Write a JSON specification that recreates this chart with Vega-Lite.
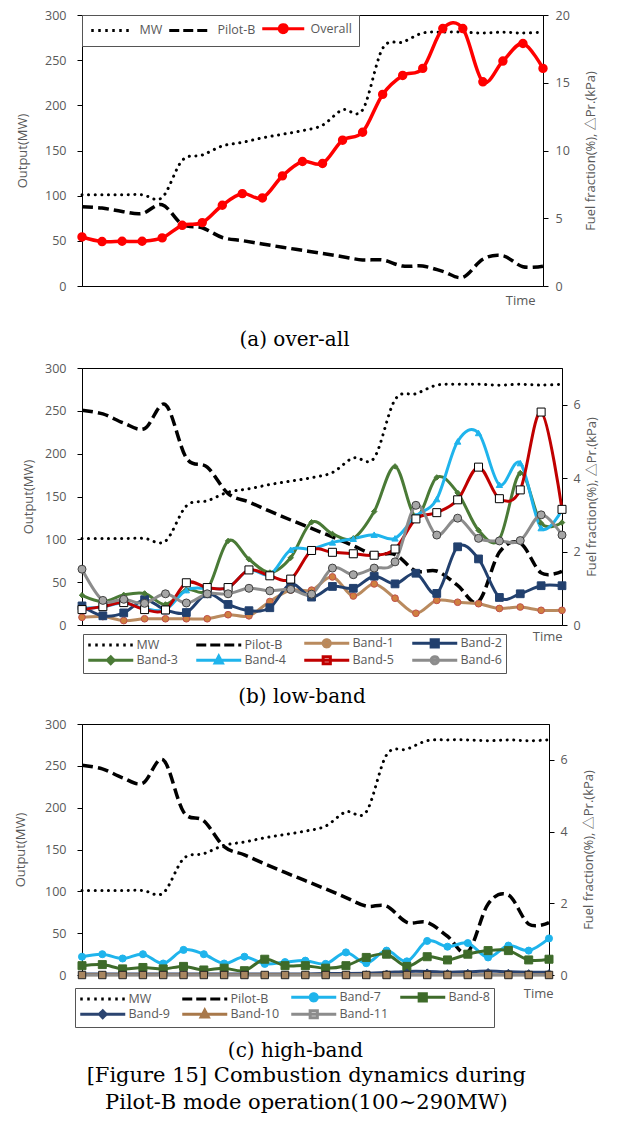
{
"$schema": "https://vega.github.io/schema/vega-lite/v6.json",
"padding": {"left": 14, "top": 8, "right": 8, "bottom": 4},
"spacing": 10,
"config": {
  "view": {"stroke": "#000", "strokeWidth": 1},
  "font": "Open Sans",
  "axis": {"grid": false, "labelFont": "Open Sans", "labelFontSize": 12.5, "labelColor": "#595959", "titleFont": "Open Sans, Noto Sans CJK KR", "titleFontSize": 13, "titleColor": "#595959", "titleFontWeight": "normal", "domainColor": "#000", "tickColor": "#000", "tickSize": 5, "domainWidth": 1},
  "legend": {"labelFont": "Open Sans", "labelFontSize": 12.5, "labelColor": "#595959"},
  "title": {"font": "DejaVu Serif", "fontWeight": "normal", "color": "#000"}
},
"datasets": {
"d": [
{"t":1,"s":"MW","v":101},{"t":2,"s":"MW","v":101},{"t":3,"s":"MW","v":101},{"t":4,"s":"MW","v":101},{"t":5,"s":"MW","v":98},{"t":6,"s":"MW","v":139},{"t":7,"s":"MW","v":145},{"t":8,"s":"MW","v":155},{"t":9,"s":"MW","v":159},{"t":10,"s":"MW","v":164},{"t":11,"s":"MW","v":168},{"t":12,"s":"MW","v":172},{"t":13,"s":"MW","v":178},{"t":14,"s":"MW","v":195},{"t":15,"s":"MW","v":195},{"t":16,"s":"MW","v":263},{"t":17,"s":"MW","v":270},{"t":18,"s":"MW","v":280},{"t":19,"s":"MW","v":281},{"t":20,"s":"MW","v":281},{"t":21,"s":"MW","v":280},{"t":22,"s":"MW","v":281},{"t":23,"s":"MW","v":280},{"t":24,"s":"MW","v":281},
{"t":1,"s":"Pilot-B","v":5.85},{"t":2,"s":"Pilot-B","v":5.75},{"t":3,"s":"Pilot-B","v":5.5},{"t":4,"s":"Pilot-B","v":5.35},{"t":5,"s":"Pilot-B","v":6.0},{"t":6,"s":"Pilot-B","v":4.55},{"t":7,"s":"Pilot-B","v":4.3},{"t":8,"s":"Pilot-B","v":3.58},{"t":9,"s":"Pilot-B","v":3.35},{"t":10,"s":"Pilot-B","v":3.1},{"t":11,"s":"Pilot-B","v":2.86},{"t":12,"s":"Pilot-B","v":2.63},{"t":13,"s":"Pilot-B","v":2.4},{"t":14,"s":"Pilot-B","v":2.16},{"t":15,"s":"Pilot-B","v":1.92},{"t":16,"s":"Pilot-B","v":1.92},{"t":17,"s":"Pilot-B","v":1.47},{"t":18,"s":"Pilot-B","v":1.47},{"t":19,"s":"Pilot-B","v":1.08},{"t":20,"s":"Pilot-B","v":0.64},{"t":21,"s":"Pilot-B","v":1.98},{"t":22,"s":"Pilot-B","v":2.23},{"t":23,"s":"Pilot-B","v":1.42},{"t":24,"s":"Pilot-B","v":1.46},
{"t":1,"s":"Overall","v":3.62},{"t":2,"s":"Overall","v":3.28},{"t":3,"s":"Overall","v":3.3},{"t":4,"s":"Overall","v":3.3},{"t":5,"s":"Overall","v":3.55},{"t":6,"s":"Overall","v":4.48},{"t":7,"s":"Overall","v":4.68},{"t":8,"s":"Overall","v":5.96},{"t":9,"s":"Overall","v":6.82},{"t":10,"s":"Overall","v":6.5},{"t":11,"s":"Overall","v":8.13},{"t":12,"s":"Overall","v":9.19},{"t":13,"s":"Overall","v":9.04},{"t":14,"s":"Overall","v":10.76},{"t":15,"s":"Overall","v":11.35},{"t":16,"s":"Overall","v":14.14},{"t":17,"s":"Overall","v":15.54},{"t":18,"s":"Overall","v":16.06},{"t":19,"s":"Overall","v":19.0},{"t":20,"s":"Overall","v":19.0},{"t":21,"s":"Overall","v":15.07},{"t":22,"s":"Overall","v":16.6},{"t":23,"s":"Overall","v":17.9},{"t":24,"s":"Overall","v":16.06},
{"t":1,"s":"Band-1","v":0.21},{"t":2,"s":"Band-1","v":0.23},{"t":3,"s":"Band-1","v":0.12},{"t":4,"s":"Band-1","v":0.17},{"t":5,"s":"Band-1","v":0.17},{"t":6,"s":"Band-1","v":0.17},{"t":7,"s":"Band-1","v":0.17},{"t":8,"s":"Band-1","v":0.28},{"t":9,"s":"Band-1","v":0.25},{"t":10,"s":"Band-1","v":0.64},{"t":11,"s":"Band-1","v":0.95},{"t":12,"s":"Band-1","v":0.95},{"t":13,"s":"Band-1","v":1.31},{"t":14,"s":"Band-1","v":0.79},{"t":15,"s":"Band-1","v":1.12},{"t":16,"s":"Band-1","v":0.73},{"t":17,"s":"Band-1","v":0.32},{"t":18,"s":"Band-1","v":0.67},{"t":19,"s":"Band-1","v":0.62},{"t":20,"s":"Band-1","v":0.58},{"t":21,"s":"Band-1","v":0.45},{"t":22,"s":"Band-1","v":0.49},{"t":23,"s":"Band-1","v":0.4},{"t":24,"s":"Band-1","v":0.4},
{"t":1,"s":"Band-2","v":0.52},{"t":2,"s":"Band-2","v":0.25},{"t":3,"s":"Band-2","v":0.33},{"t":4,"s":"Band-2","v":0.69},{"t":5,"s":"Band-2","v":0.41},{"t":6,"s":"Band-2","v":0.34},{"t":7,"s":"Band-2","v":0.85},{"t":8,"s":"Band-2","v":0.56},{"t":9,"s":"Band-2","v":0.39},{"t":10,"s":"Band-2","v":0.47},{"t":11,"s":"Band-2","v":1.12},{"t":12,"s":"Band-2","v":0.76},{"t":13,"s":"Band-2","v":1.05},{"t":14,"s":"Band-2","v":1.0},{"t":15,"s":"Band-2","v":1.33},{"t":16,"s":"Band-2","v":1.12},{"t":17,"s":"Band-2","v":1.41},{"t":18,"s":"Band-2","v":0.86},{"t":19,"s":"Band-2","v":2.13},{"t":20,"s":"Band-2","v":1.8},{"t":21,"s":"Band-2","v":0.75},{"t":22,"s":"Band-2","v":0.85},{"t":23,"s":"Band-2","v":1.07},{"t":24,"s":"Band-2","v":1.07},
{"t":1,"s":"Band-3","v":0.81},{"t":2,"s":"Band-3","v":0.64},{"t":3,"s":"Band-3","v":0.82},{"t":4,"s":"Band-3","v":0.86},{"t":5,"s":"Band-3","v":0.56},{"t":6,"s":"Band-3","v":0.96},{"t":7,"s":"Band-3","v":0.97},{"t":8,"s":"Band-3","v":2.29},{"t":9,"s":"Band-3","v":1.79},{"t":10,"s":"Band-3","v":1.43},{"t":11,"s":"Band-3","v":1.83},{"t":12,"s":"Band-3","v":2.8},{"t":13,"s":"Band-3","v":2.48},{"t":14,"s":"Band-3","v":2.36},{"t":15,"s":"Band-3","v":3.09},{"t":16,"s":"Band-3","v":4.32},{"t":17,"s":"Band-3","v":2.95},{"t":18,"s":"Band-3","v":4.02},{"t":19,"s":"Band-3","v":3.6},{"t":20,"s":"Band-3","v":2.58},{"t":21,"s":"Band-3","v":2.34},{"t":22,"s":"Band-3","v":4.14},{"t":23,"s":"Band-3","v":2.77},{"t":24,"s":"Band-3","v":2.79},
{"t":1,"s":"Band-4","v":0.45},{"t":2,"s":"Band-4","v":0.5},{"t":3,"s":"Band-4","v":0.6},{"t":4,"s":"Band-4","v":0.45},{"t":5,"s":"Band-4","v":0.42},{"t":6,"s":"Band-4","v":0.95},{"t":7,"s":"Band-4","v":1.0},{"t":8,"s":"Band-4","v":1.02},{"t":9,"s":"Band-4","v":1.5},{"t":10,"s":"Band-4","v":1.37},{"t":11,"s":"Band-4","v":2.05},{"t":12,"s":"Band-4","v":2.07},{"t":13,"s":"Band-4","v":2.25},{"t":14,"s":"Band-4","v":2.35},{"t":15,"s":"Band-4","v":2.46},{"t":16,"s":"Band-4","v":2.36},{"t":17,"s":"Band-4","v":2.97},{"t":18,"s":"Band-4","v":3.43},{"t":19,"s":"Band-4","v":5.0},{"t":20,"s":"Band-4","v":5.23},{"t":21,"s":"Band-4","v":3.82},{"t":22,"s":"Band-4","v":4.41},{"t":23,"s":"Band-4","v":2.64},{"t":24,"s":"Band-4","v":3.14},
{"t":1,"s":"Band-5","v":0.42},{"t":2,"s":"Band-5","v":0.5},{"t":3,"s":"Band-5","v":0.61},{"t":4,"s":"Band-5","v":0.42},{"t":5,"s":"Band-5","v":0.41},{"t":6,"s":"Band-5","v":1.15},{"t":7,"s":"Band-5","v":1.02},{"t":8,"s":"Band-5","v":1.02},{"t":9,"s":"Band-5","v":1.5},{"t":10,"s":"Band-5","v":1.34},{"t":11,"s":"Band-5","v":1.25},{"t":12,"s":"Band-5","v":2.03},{"t":13,"s":"Band-5","v":1.98},{"t":14,"s":"Band-5","v":1.94},{"t":15,"s":"Band-5","v":1.9},{"t":16,"s":"Band-5","v":2.07},{"t":17,"s":"Band-5","v":2.89},{"t":18,"s":"Band-5","v":3.06},{"t":19,"s":"Band-5","v":3.41},{"t":20,"s":"Band-5","v":4.3},{"t":21,"s":"Band-5","v":3.44},{"t":22,"s":"Band-5","v":3.68},{"t":23,"s":"Band-5","v":5.8},{"t":24,"s":"Band-5","v":3.15},
{"t":1,"s":"Band-6","v":1.52},{"t":2,"s":"Band-6","v":0.67},{"t":3,"s":"Band-6","v":0.7},{"t":4,"s":"Band-6","v":0.59},{"t":5,"s":"Band-6","v":0.85},{"t":6,"s":"Band-6","v":0.6},{"t":7,"s":"Band-6","v":0.85},{"t":8,"s":"Band-6","v":0.85},{"t":9,"s":"Band-6","v":1.0},{"t":10,"s":"Band-6","v":0.93},{"t":11,"s":"Band-6","v":0.97},{"t":12,"s":"Band-6","v":0.84},{"t":13,"s":"Band-6","v":1.55},{"t":14,"s":"Band-6","v":1.37},{"t":15,"s":"Band-6","v":1.55},{"t":16,"s":"Band-6","v":1.72},{"t":17,"s":"Band-6","v":3.26},{"t":18,"s":"Band-6","v":2.45},{"t":19,"s":"Band-6","v":2.91},{"t":20,"s":"Band-6","v":2.36},{"t":21,"s":"Band-6","v":2.29},{"t":22,"s":"Band-6","v":2.3},{"t":23,"s":"Band-6","v":3.0},{"t":24,"s":"Band-6","v":2.45},
{"t":1,"s":"Band-7","v":0.51},{"t":2,"s":"Band-7","v":0.58},{"t":3,"s":"Band-7","v":0.46},{"t":4,"s":"Band-7","v":0.58},{"t":5,"s":"Band-7","v":0.32},{"t":6,"s":"Band-7","v":0.7},{"t":7,"s":"Band-7","v":0.58},{"t":8,"s":"Band-7","v":0.32},{"t":9,"s":"Band-7","v":0.51},{"t":10,"s":"Band-7","v":0.31},{"t":11,"s":"Band-7","v":0.36},{"t":12,"s":"Band-7","v":0.4},{"t":13,"s":"Band-7","v":0.31},{"t":14,"s":"Band-7","v":0.63},{"t":15,"s":"Band-7","v":0.33},{"t":16,"s":"Band-7","v":0.68},{"t":17,"s":"Band-7","v":0.38},{"t":18,"s":"Band-7","v":0.95},{"t":19,"s":"Band-7","v":0.79},{"t":20,"s":"Band-7","v":0.89},{"t":21,"s":"Band-7","v":0.49},{"t":22,"s":"Band-7","v":0.82},{"t":23,"s":"Band-7","v":0.68},{"t":24,"s":"Band-7","v":1.02},
{"t":1,"s":"Band-8","v":0.26},{"t":2,"s":"Band-8","v":0.29},{"t":3,"s":"Band-8","v":0.17},{"t":4,"s":"Band-8","v":0.21},{"t":5,"s":"Band-8","v":0.17},{"t":6,"s":"Band-8","v":0.24},{"t":7,"s":"Band-8","v":0.14},{"t":8,"s":"Band-8","v":0.19},{"t":9,"s":"Band-8","v":0.12},{"t":10,"s":"Band-8","v":0.44},{"t":11,"s":"Band-8","v":0.26},{"t":12,"s":"Band-8","v":0.26},{"t":13,"s":"Band-8","v":0.19},{"t":14,"s":"Band-8","v":0.26},{"t":15,"s":"Band-8","v":0.49},{"t":16,"s":"Band-8","v":0.58},{"t":17,"s":"Band-8","v":0.24},{"t":18,"s":"Band-8","v":0.51},{"t":19,"s":"Band-8","v":0.42},{"t":20,"s":"Band-8","v":0.58},{"t":21,"s":"Band-8","v":0.68},{"t":22,"s":"Band-8","v":0.68},{"t":23,"s":"Band-8","v":0.42},{"t":24,"s":"Band-8","v":0.44},
{"t":1,"s":"Band-9","v":0.03},{"t":2,"s":"Band-9","v":0.03},{"t":3,"s":"Band-9","v":0.03},{"t":4,"s":"Band-9","v":0.03},{"t":5,"s":"Band-9","v":0.03},{"t":6,"s":"Band-9","v":0.03},{"t":7,"s":"Band-9","v":0.03},{"t":8,"s":"Band-9","v":0.03},{"t":9,"s":"Band-9","v":0.03},{"t":10,"s":"Band-9","v":0.03},{"t":11,"s":"Band-9","v":0.03},{"t":12,"s":"Band-9","v":0.03},{"t":13,"s":"Band-9","v":0.04},{"t":14,"s":"Band-9","v":0.04},{"t":15,"s":"Band-9","v":0.05},{"t":16,"s":"Band-9","v":0.07},{"t":17,"s":"Band-9","v":0.1},{"t":18,"s":"Band-9","v":0.1},{"t":19,"s":"Band-9","v":0.08},{"t":20,"s":"Band-9","v":0.09},{"t":21,"s":"Band-9","v":0.11},{"t":22,"s":"Band-9","v":0.09},{"t":23,"s":"Band-9","v":0.08},{"t":24,"s":"Band-9","v":0.08},
{"t":1,"s":"Band-10","v":0.01},{"t":2,"s":"Band-10","v":0.01},{"t":3,"s":"Band-10","v":0.01},{"t":4,"s":"Band-10","v":0.01},{"t":5,"s":"Band-10","v":0.01},{"t":6,"s":"Band-10","v":0.01},{"t":7,"s":"Band-10","v":0.01},{"t":8,"s":"Band-10","v":0.01},{"t":9,"s":"Band-10","v":0.01},{"t":10,"s":"Band-10","v":0.01},{"t":11,"s":"Band-10","v":0.01},{"t":12,"s":"Band-10","v":0.01},{"t":13,"s":"Band-10","v":0.01},{"t":14,"s":"Band-10","v":0.01},{"t":15,"s":"Band-10","v":0.01},{"t":16,"s":"Band-10","v":0.01},{"t":17,"s":"Band-10","v":0.01},{"t":18,"s":"Band-10","v":0.01},{"t":19,"s":"Band-10","v":0.01},{"t":20,"s":"Band-10","v":0.01},{"t":21,"s":"Band-10","v":0.01},{"t":22,"s":"Band-10","v":0.01},{"t":23,"s":"Band-10","v":0.01},{"t":24,"s":"Band-10","v":0.01},
{"t":1,"s":"Band-11","v":0},{"t":2,"s":"Band-11","v":0},{"t":3,"s":"Band-11","v":0},{"t":4,"s":"Band-11","v":0},{"t":5,"s":"Band-11","v":0},{"t":6,"s":"Band-11","v":0},{"t":7,"s":"Band-11","v":0},{"t":8,"s":"Band-11","v":0},{"t":9,"s":"Band-11","v":0},{"t":10,"s":"Band-11","v":0},{"t":11,"s":"Band-11","v":0},{"t":12,"s":"Band-11","v":0},{"t":13,"s":"Band-11","v":0},{"t":14,"s":"Band-11","v":0},{"t":15,"s":"Band-11","v":0},{"t":16,"s":"Band-11","v":0},{"t":17,"s":"Band-11","v":0},{"t":18,"s":"Band-11","v":0},{"t":19,"s":"Band-11","v":0},{"t":20,"s":"Band-11","v":0},{"t":21,"s":"Band-11","v":0},{"t":22,"s":"Band-11","v":0},{"t":23,"s":"Band-11","v":0},{"t":24,"s":"Band-11","v":0}
]
},
"title": {"text": ["[Figure 15] Combustion dynamics during", "Pilot-B mode operation(100~290MW)"], "orient": "bottom", "anchor": "middle", "fontSize": 21, "lineHeight": 27, "offset": 4},
"resolve": {"scale": {"color": "independent", "shape": "independent", "fill": "independent", "stroke": "independent", "strokeDash": "independent"}, "legend": {"color": "independent", "shape": "independent", "fill": "independent", "stroke": "independent", "strokeDash": "independent"}},
"vconcat": [
{
  "width": 461, "height": 271,
  "data": {"name": "d"},
  "title": {"text": "(a) over-all", "orient": "bottom", "offset": 23, "fontSize": 20, "anchor": "middle", "frame": "group", "dx": -18},
  "layer": [
    {
      "transform": [{"filter": "datum.s==='MW'"}],
      "mark": {"type": "line", "interpolate": "cardinal", "color": "#000", "strokeWidth": 3, "strokeDash": [0.1, 6.5], "strokeCap": "round"},
      "encoding": {
        "x": {"field": "t", "type": "quantitative", "scale": {"domain": [1, 24], "nice": false, "zero": false}, "axis": {"title": "Time", "labels": false, "ticks": false, "domain": false, "titleX": 453, "titleY": 8, "titleAlign": "right", "titleBaseline": "top"}},
        "y": {"field": "v", "type": "quantitative", "scale": {"domain": [0, 300], "nice": false}, "axis": {"orient": "left", "title": "Output(MW)", "values": [0, 50, 100, 150, 200, 250, 300], "labelPadding": 11, "titlePadding": 15}}
      }
    },
    {
      "layer": [
        {
          "transform": [{"filter": "datum.s==='Pilot-B'"}],
          "mark": {"type": "line", "interpolate": "cardinal", "color": "#000", "strokeWidth": 3.5, "strokeDash": [11, 5]},
          "encoding": {
            "x": {"field": "t", "type": "quantitative"},
            "y": {"field": "v", "type": "quantitative", "scale": {"domain": [0, 20], "nice": false}, "axis": {"orient": "right", "title": "Fuel fraction(%), △Pr.(kPa)", "titleAngle": 270, "titleBaseline": "top", "values": [0, 5, 10, 15, 20], "labelPadding": 7, "titlePadding": 15}}
          }
        },
        {
          "transform": [{"filter": "datum.s==='Overall'"}],
          "mark": {"type": "line", "interpolate": "cardinal", "strokeWidth": 3.5, "color": "#FF0000"},
          "encoding": {
            "x": {"field": "t", "type": "quantitative"},
            "y": {"field": "v", "type": "quantitative"}
          }
        },
        {
          "transform": [{"filter": "datum.s==='Overall'"}],
          "mark": {"type": "point", "shape": "circle", "filled": true, "size": 55, "fill": "#FF0000", "stroke": "#FF0000", "opacity": 1},
          "encoding": {
            "x": {"field": "t", "type": "quantitative"},
            "y": {"field": "v", "type": "quantitative"}
          }
        },
        {
          "transform": [{"filter": "datum.s==='__legend_only__'"}],
          "mark": {"type": "point", "filled": true, "size": 64, "strokeWidth": 3, "opacity": 1},
          "encoding": {
            "x": {"field": "t", "type": "quantitative"},
            "y": {"field": "v", "type": "quantitative"},
            "shape": {"field": "s", "type": "nominal", "scale": {"domain": ["MW", "Pilot-B", "Overall"], "range": ["M-1,0H9.5", "M-1,0H9.5", "M-1,0H9.5M5.25,0A1,1,0,1,1,3.25,0A1,1,0,1,1,5.25,0Z"]},
              "legend": {"title": null, "orient": "none", "legendX": 0, "legendY": 0, "direction": "horizontal", "columns": 3, "symbolSize": 64, "symbolStrokeWidth": 3, "labelOffset": 38, "columnPadding": 0, "padding": 7, "strokeColor": "#555", "fillColor": "#fff"}},
            "fill": {"field": "s", "type": "nominal", "scale": {"domain": ["MW", "Pilot-B", "Overall"], "range": ["transparent", "transparent", "#FF0000"]},
              "legend": {"title": null, "orient": "none", "legendX": 0, "legendY": 0, "direction": "horizontal", "columns": 3, "symbolSize": 64, "symbolStrokeWidth": 3, "labelOffset": 38, "columnPadding": 0, "padding": 7, "strokeColor": "#555", "fillColor": "#fff"}},
            "stroke": {"field": "s", "type": "nominal", "scale": {"domain": ["MW", "Pilot-B", "Overall"], "range": ["#000000", "#000000", "#FF0000"]},
              "legend": {"title": null, "orient": "none", "legendX": 0, "legendY": 0, "direction": "horizontal", "columns": 3, "symbolSize": 64, "symbolStrokeWidth": 3, "labelOffset": 38, "columnPadding": 0, "padding": 7, "strokeColor": "#555", "fillColor": "#fff"}},
            "strokeDash": {"field": "s", "type": "nominal", "scale": {"domain": ["MW", "Pilot-B", "Overall"], "range": [[2.5, 4.5], [10, 4], [1, 0]]},
              "legend": {"title": null, "orient": "none", "legendX": 0, "legendY": 0, "direction": "horizontal", "columns": 3, "symbolSize": 64, "symbolStrokeWidth": 3, "labelOffset": 38, "columnPadding": 0, "padding": 7, "strokeColor": "#555", "fillColor": "#fff"}}
          }
        }
      ]
    }
  ],
  "resolve": {"scale": {"y": "independent"}}
},
{
  "width": 480, "height": 257,
  "data": {"name": "d"},
  "title": {"text": "(b) low-band", "orient": "bottom", "offset": 13, "fontSize": 20, "anchor": "middle", "frame": "group", "dx": -20},
  "layer": [
    {
      "transform": [{"filter": "datum.s==='MW'"}],
      "mark": {"type": "line", "interpolate": "cardinal", "color": "#000", "strokeWidth": 3, "strokeDash": [0.1, 6.5], "strokeCap": "round"},
      "encoding": {
        "x": {"field": "t", "type": "quantitative", "scale": {"domain": [1, 24], "nice": false, "zero": false}, "axis": {"title": "Time", "labels": false, "ticks": false, "domain": false, "titleX": 480, "titleY": 5, "titleAlign": "right", "titleBaseline": "top"}},
        "y": {"field": "v", "type": "quantitative", "scale": {"domain": [0, 300], "nice": false}, "axis": {"orient": "left", "title": "Output(MW)", "values": [0, 50, 100, 150, 200, 250, 300], "labelPadding": 11, "titlePadding": 9}}
      }
    },
    {
      "layer": [
        {
          "transform": [{"filter": "datum.s==='Pilot-B'"}],
          "mark": {"type": "line", "interpolate": "cardinal", "color": "#000", "strokeWidth": 3.5, "strokeDash": [11, 5]},
          "encoding": {
            "x": {"field": "t", "type": "quantitative"},
            "y": {"field": "v", "type": "quantitative", "scale": {"domain": [0, 7], "nice": false}, "axis": {"orient": "right", "title": "Fuel fraction(%), △Pr.(kPa)", "titleAngle": 270, "titleBaseline": "top", "values": [0, 1, 2, 3, 4, 5, 6, 7], "labelPadding": 6, "titlePadding": 5}}
          }
        },
        {
          "transform": [{"filter": "indexof(['Band-1','Band-2','Band-3','Band-4','Band-5','Band-6'], datum.s) >= 0"}],
          "mark": {"type": "line", "interpolate": "cardinal", "strokeWidth": 3},
          "encoding": {
            "x": {"field": "t", "type": "quantitative"},
            "y": {"field": "v", "type": "quantitative"},
            "color": {"field": "s", "type": "nominal", "scale": {"domain": ["Band-1", "Band-2", "Band-3", "Band-4", "Band-5", "Band-6"], "range": ["#B98A5E", "#22406E", "#4A7A36", "#1FB4EC", "#C00000", "#8C8C8C"]}, "legend": null}
          }
        },
        {"transform": [{"filter": "datum.s==='Band-1'"}], "mark": {"type": "point", "shape": "circle", "filled": true, "size": 45, "fill": "#D0803F", "stroke": "#C0504D", "strokeWidth": 1, "opacity": 1}, "encoding": {"x": {"field": "t", "type": "quantitative"}, "y": {"field": "v", "type": "quantitative"}}},
        {"transform": [{"filter": "datum.s==='Band-2'"}], "mark": {"type": "point", "shape": "square", "filled": true, "size": 60, "fill": "#22406E", "stroke": "#22406E", "strokeWidth": 1, "opacity": 1}, "encoding": {"x": {"field": "t", "type": "quantitative"}, "y": {"field": "v", "type": "quantitative"}}},
        {"transform": [{"filter": "datum.s==='Band-3'"}], "mark": {"type": "point", "shape": "diamond", "filled": true, "size": 30, "fill": "#4A7A36", "stroke": "#4A7A36", "strokeWidth": 1, "opacity": 1}, "encoding": {"x": {"field": "t", "type": "quantitative"}, "y": {"field": "v", "type": "quantitative"}}},
        {"transform": [{"filter": "datum.s==='Band-4'"}], "mark": {"type": "point", "shape": "triangle-up", "filled": true, "size": 40, "fill": "#1FB4EC", "stroke": "#1FB4EC", "strokeWidth": 1, "opacity": 1}, "encoding": {"x": {"field": "t", "type": "quantitative"}, "y": {"field": "v", "type": "quantitative"}}},
        {"transform": [{"filter": "datum.s==='Band-5'"}], "mark": {"type": "point", "shape": "square", "filled": true, "size": 64, "fill": "#ffffff", "stroke": "#000000", "strokeWidth": 1, "opacity": 1}, "encoding": {"x": {"field": "t", "type": "quantitative"}, "y": {"field": "v", "type": "quantitative"}}},
        {"transform": [{"filter": "datum.s==='Band-6'"}], "mark": {"type": "point", "shape": "circle", "filled": true, "size": 64, "fill": "#A6A6A6", "stroke": "#404040", "strokeWidth": 1, "opacity": 1}, "encoding": {"x": {"field": "t", "type": "quantitative"}, "y": {"field": "v", "type": "quantitative"}}},
        {
          "transform": [{"filter": "datum.s==='__legend_only__'"}],
          "mark": {"type": "point", "filled": true, "size": 64, "strokeWidth": 3, "opacity": 1},
          "encoding": {
            "x": {"field": "t", "type": "quantitative"},
            "y": {"field": "v", "type": "quantitative"},
            "shape": {"field": "s", "type": "nominal", "scale": {"domain": ["MW", "Pilot-B", "Band-1", "Band-2", "Band-3", "Band-4", "Band-5", "Band-6"], "range": ["M-1,0H10.25", "M-1,0H10.25", "M-1,0H10.25M5.525,0A0.9,0.9,0,1,1,3.725,0A0.9,0.9,0,1,1,5.525,0Z", "M-1,0H10.25M3.725,-0.9H5.525V0.9H3.725Z", "M-1,0H10.25M4.625,-0.85L5.475,0L4.625,0.85L3.775,0Z", "M-1,0H10.25M4.625,-1L5.525,0.7H3.725Z", "M-1,0H10.25M3.725,-0.9H5.525V0.9H3.725Z", "M-1,0H10.25M5.525,0A0.9,0.9,0,1,1,3.725,0A0.9,0.9,0,1,1,5.525,0Z"]},
              "legend": {"title": null, "orient": "none", "legendX": 1, "legendY": 266, "direction": "horizontal", "columns": 4, "symbolSize": 64, "symbolStrokeWidth": 3, "labelOffset": 38, "columnPadding": 11, "rowPadding": -3, "padding": 3, "strokeColor": "#555", "fillColor": "#fff"}},
            "fill": {"field": "s", "type": "nominal", "scale": {"domain": ["MW", "Pilot-B", "Band-1", "Band-2", "Band-3", "Band-4", "Band-5", "Band-6"], "range": ["transparent", "transparent", "#D0803F", "#22406E", "#4A7A36", "#1FB4EC", "#ffffff", "#A6A6A6"]},
              "legend": {"title": null, "orient": "none", "legendX": 1, "legendY": 266, "direction": "horizontal", "columns": 4, "symbolSize": 64, "symbolStrokeWidth": 3, "labelOffset": 38, "columnPadding": 11, "rowPadding": -3, "padding": 3, "strokeColor": "#555", "fillColor": "#fff"}},
            "stroke": {"field": "s", "type": "nominal", "scale": {"domain": ["MW", "Pilot-B", "Band-1", "Band-2", "Band-3", "Band-4", "Band-5", "Band-6"], "range": ["#000000", "#000000", "#B98A5E", "#22406E", "#4A7A36", "#1FB4EC", "#C00000", "#8C8C8C"]},
              "legend": {"title": null, "orient": "none", "legendX": 1, "legendY": 266, "direction": "horizontal", "columns": 4, "symbolSize": 64, "symbolStrokeWidth": 3, "labelOffset": 38, "columnPadding": 11, "rowPadding": -3, "padding": 3, "strokeColor": "#555", "fillColor": "#fff"}},
            "strokeDash": {"field": "s", "type": "nominal", "scale": {"domain": ["MW", "Pilot-B", "Band-1", "Band-2", "Band-3", "Band-4", "Band-5", "Band-6"], "range": [[2.5, 4.5], [10, 4], [1, 0], [1, 0], [1, 0], [1, 0], [1, 0], [1, 0]]},
              "legend": {"title": null, "orient": "none", "legendX": 1, "legendY": 266, "direction": "horizontal", "columns": 4, "symbolSize": 64, "symbolStrokeWidth": 3, "labelOffset": 38, "columnPadding": 11, "rowPadding": -3, "padding": 3, "strokeColor": "#555", "fillColor": "#fff"}}
          }
        }
      ]
    }
  ],
  "resolve": {"scale": {"y": "independent"}}
},
{
  "width": 467, "height": 251,
  "data": {"name": "d"},
  "title": {"text": "(c) high-band", "orient": "bottom", "offset": 13, "fontSize": 20, "anchor": "middle", "frame": "group", "dx": -20},
  "layer": [
    {
      "transform": [{"filter": "datum.s==='MW'"}],
      "mark": {"type": "line", "interpolate": "cardinal", "color": "#000", "strokeWidth": 3, "strokeDash": [0.1, 6.5], "strokeCap": "round"},
      "encoding": {
        "x": {"field": "t", "type": "quantitative", "scale": {"domain": [1, 24], "nice": false, "zero": false}, "axis": {"title": "Time", "labels": false, "ticks": false, "domain": false, "titleX": 471, "titleY": 12, "titleAlign": "right", "titleBaseline": "top"}},
        "y": {"field": "v", "type": "quantitative", "scale": {"domain": [0, 300], "nice": false}, "axis": {"orient": "left", "title": "Output(MW)", "values": [0, 50, 100, 150, 200, 250, 300], "labelPadding": 11, "titlePadding": 17}}
      }
    },
    {
      "layer": [
        {
          "transform": [{"filter": "datum.s==='Pilot-B'"}],
          "mark": {"type": "line", "interpolate": "cardinal", "color": "#000", "strokeWidth": 3.5, "strokeDash": [11, 5]},
          "encoding": {
            "x": {"field": "t", "type": "quantitative"},
            "y": {"field": "v", "type": "quantitative", "scale": {"domain": [0, 7], "nice": false}, "axis": {"orient": "right", "title": "Fuel fraction(%), △Pr.(kPa)", "titleAngle": 270, "titleBaseline": "top", "values": [0, 1, 2, 3, 4, 5, 6, 7], "labelPadding": 6, "titlePadding": 15}}
          }
        },
        {
          "transform": [{"filter": "indexof(['Band-7','Band-8','Band-9','Band-10','Band-11'], datum.s) >= 0"}],
          "mark": {"type": "line", "interpolate": "cardinal", "strokeWidth": 3},
          "encoding": {
            "x": {"field": "t", "type": "quantitative"},
            "y": {"field": "v", "type": "quantitative"},
            "color": {"field": "s", "type": "nominal", "scale": {"domain": ["Band-7", "Band-8", "Band-9", "Band-10", "Band-11"], "range": ["#1FB4EC", "#3E6B2A", "#2B4470", "#A8784A", "#8C8C8C"]}, "legend": null}
          }
        },
        {"transform": [{"filter": "datum.s==='Band-7'"}], "mark": {"type": "point", "shape": "circle", "filled": true, "size": 50, "fill": "#1FB4EC", "stroke": "#1FB4EC", "strokeWidth": 1, "opacity": 1}, "encoding": {"x": {"field": "t", "type": "quantitative"}, "y": {"field": "v", "type": "quantitative"}}},
        {"transform": [{"filter": "datum.s==='Band-8'"}], "mark": {"type": "point", "shape": "square", "filled": true, "size": 64, "fill": "#3E6B2A", "stroke": "#3E6B2A", "strokeWidth": 1, "opacity": 1}, "encoding": {"x": {"field": "t", "type": "quantitative"}, "y": {"field": "v", "type": "quantitative"}}},
        {"transform": [{"filter": "datum.s==='Band-9'"}], "mark": {"type": "point", "shape": "diamond", "filled": true, "size": 25, "fill": "#2B4470", "stroke": "#2B4470", "strokeWidth": 1, "opacity": 1}, "encoding": {"x": {"field": "t", "type": "quantitative"}, "y": {"field": "v", "type": "quantitative"}}},
        {"transform": [{"filter": "datum.s==='Band-10'"}], "mark": {"type": "point", "shape": "triangle-up", "filled": true, "size": 40, "fill": "#A8784A", "stroke": "#A8784A", "strokeWidth": 1, "opacity": 1}, "encoding": {"x": {"field": "t", "type": "quantitative"}, "y": {"field": "v", "type": "quantitative"}}},
        {"transform": [{"filter": "datum.s==='Band-11'"}], "mark": {"type": "point", "shape": "square", "filled": true, "size": 55, "fill": "#A88660", "stroke": "#222222", "strokeWidth": 1, "opacity": 1}, "encoding": {"x": {"field": "t", "type": "quantitative"}, "y": {"field": "v", "type": "quantitative"}}},
        {
          "transform": [{"filter": "datum.s==='__legend_only__'"}],
          "mark": {"type": "point", "filled": true, "size": 64, "strokeWidth": 3, "opacity": 1},
          "encoding": {
            "x": {"field": "t", "type": "quantitative"},
            "y": {"field": "v", "type": "quantitative"},
            "shape": {"field": "s", "type": "nominal", "scale": {"domain": ["MW", "Pilot-B", "Band-7", "Band-8", "Band-9", "Band-10", "Band-11"], "range": ["M-1,0H10.25", "M-1,0H10.25", "M-1,0H10.25M5.525,0A0.9,0.9,0,1,1,3.725,0A0.9,0.9,0,1,1,5.525,0Z", "M-1,0H10.25M3.725,-0.9H5.525V0.9H3.725Z", "M-1,0H10.25M4.625,-0.85L5.475,0L4.625,0.85L3.775,0Z", "M-1,0H10.25M4.625,-1L5.525,0.7H3.725Z", "M-1,0H10.25M3.725,-0.9H5.525V0.9H3.725Z"]},
              "legend": {"title": null, "orient": "none", "legendX": -7, "legendY": 264, "direction": "horizontal", "columns": 4, "symbolSize": 64, "symbolStrokeWidth": 3, "labelOffset": 38, "columnPadding": 5, "rowPadding": -3, "padding": 3, "strokeColor": "#555", "fillColor": "#fff"}},
            "fill": {"field": "s", "type": "nominal", "scale": {"domain": ["MW", "Pilot-B", "Band-7", "Band-8", "Band-9", "Band-10", "Band-11"], "range": ["transparent", "transparent", "#1FB4EC", "#3E6B2A", "#2B4470", "#A8784A", "#ffffff"]},
              "legend": {"title": null, "orient": "none", "legendX": -7, "legendY": 264, "direction": "horizontal", "columns": 4, "symbolSize": 64, "symbolStrokeWidth": 3, "labelOffset": 38, "columnPadding": 5, "rowPadding": -3, "padding": 3, "strokeColor": "#555", "fillColor": "#fff"}},
            "stroke": {"field": "s", "type": "nominal", "scale": {"domain": ["MW", "Pilot-B", "Band-7", "Band-8", "Band-9", "Band-10", "Band-11"], "range": ["#000000", "#000000", "#1FB4EC", "#3E6B2A", "#2B4470", "#A8784A", "#8C8C8C"]},
              "legend": {"title": null, "orient": "none", "legendX": -7, "legendY": 264, "direction": "horizontal", "columns": 4, "symbolSize": 64, "symbolStrokeWidth": 3, "labelOffset": 38, "columnPadding": 5, "rowPadding": -3, "padding": 3, "strokeColor": "#555", "fillColor": "#fff"}},
            "strokeDash": {"field": "s", "type": "nominal", "scale": {"domain": ["MW", "Pilot-B", "Band-7", "Band-8", "Band-9", "Band-10", "Band-11"], "range": [[2.5, 4.5], [10, 4], [1, 0], [1, 0], [1, 0], [1, 0], [1, 0]]},
              "legend": {"title": null, "orient": "none", "legendX": -7, "legendY": 264, "direction": "horizontal", "columns": 4, "symbolSize": 64, "symbolStrokeWidth": 3, "labelOffset": 38, "columnPadding": 5, "rowPadding": -3, "padding": 3, "strokeColor": "#555", "fillColor": "#fff"}}
          }
        }
      ]
    }
  ],
  "resolve": {"scale": {"y": "independent"}}
}
]
}
